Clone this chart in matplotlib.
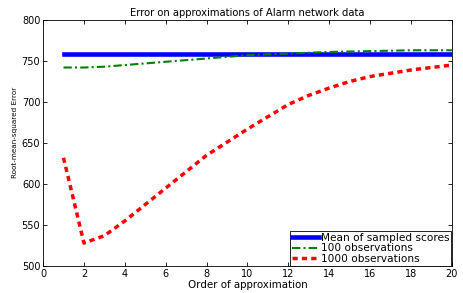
import matplotlib
matplotlib.use("Agg")
import matplotlib.pyplot as plt

order = list(range(1, 21))
mean_sampled = [759] * 20
obs_100 = [742, 742, 743, 745, 747, 749, 751, 753, 755, 757,
           758, 759, 760, 761, 761.5, 762, 762.5, 763, 763, 763]
obs_1000 = [632, 528, 537, 555, 575, 595, 615, 635, 651, 667,
            682, 697, 708, 717, 725, 731, 735, 739, 742, 745]

plt.rcParams['font.family'] = 'DejaVu Sans'
plt.rcParams['font.size'] = 7

fig = plt.figure(figsize=(4.63, 2.93), dpi=100)
ax = fig.add_axes([0.093, 0.092, 0.883, 0.84])

ax.plot(order, mean_sampled, color='#0000ff', linewidth=3.3, label='Mean of sampled scores')
ax.plot(order, obs_100, color='#008000', linewidth=1.5, linestyle=(0, (4, 1.5, 1, 1.5)), label='100 observations')
ax.plot(order, obs_1000, color='#ff0000', linewidth=2.5, linestyle=(0, (1.5, 1.2)), label='1000 observations')

ax.set_xlim(0, 20)
ax.set_ylim(500, 800)
ax.set_xticks(range(0, 21, 2))
ax.set_yticks(range(500, 801, 50))
ax.tick_params(direction='in', top=True, right=True, length=3, width=0.6, labelsize=7, pad=2)
for s in ax.spines.values():
    s.set_linewidth(0.6)

ax.set_title('Error on approximations of Alarm network data', fontsize=7.2, pad=3)
ax.set_xlabel('Order of approximation', fontsize=7.4, labelpad=1)
ax.set_ylabel('Root-mean-squared Error', fontsize=5.2)
ax.yaxis.set_label_coords(-0.062, 0.545)

leg = ax.legend(loc='lower right', fontsize=7.6, fancybox=False, edgecolor='black',
                framealpha=1, borderpad=0.15, labelspacing=0.05, handlelength=2.6,
                handletextpad=0.2, borderaxespad=0.05)
leg.get_frame().set_linewidth(0.6)

fig.savefig('out.png', dpi=100)
